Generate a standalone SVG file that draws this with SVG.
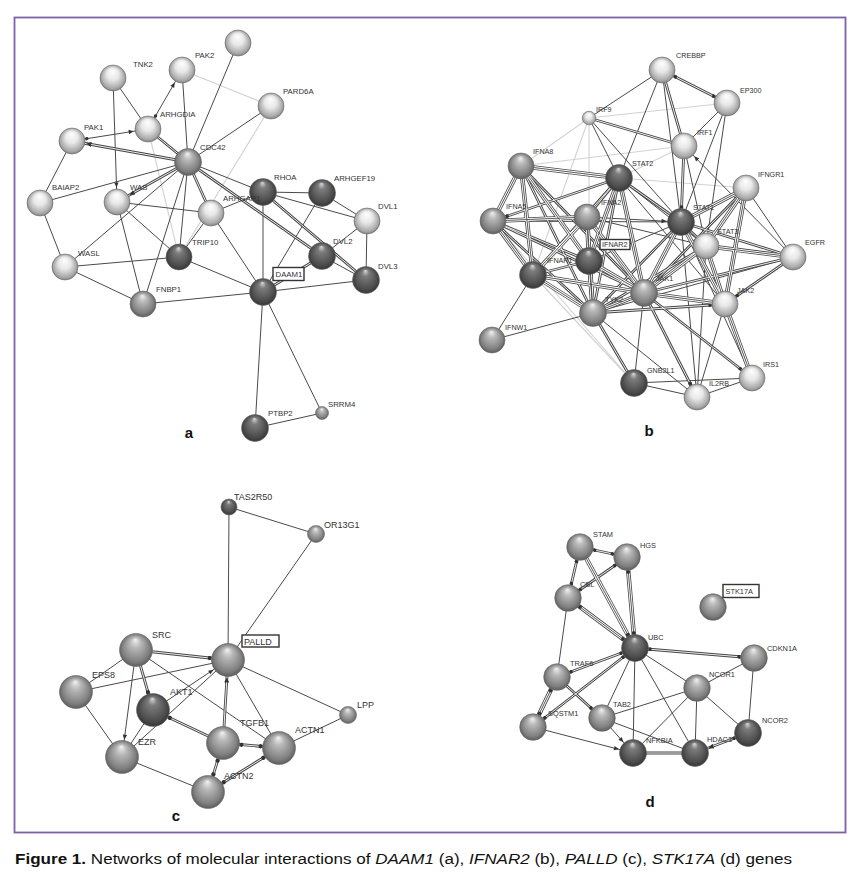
<svg xmlns="http://www.w3.org/2000/svg" xmlns:xlink="http://www.w3.org/1999/xlink" width="860" height="881" viewBox="0 0 860 881">
<style>
.s{stroke:#4a4a4a;stroke-width:1}
.l{stroke:#d2d2d2;stroke-width:1.1}
.o{stroke:#474747;stroke-width:2.8}
.w{stroke:#fff;stroke-width:0.9}
.o3{stroke:#474747;stroke-width:4.4}
.w3{stroke:#fff;stroke-width:2.8}
.i3{stroke:#474747;stroke-width:0.9}
.n circle{stroke:#6a6a6a;stroke-width:0.6}
.L{fill:url(#gL)}
.M{fill:url(#gM)}
.D{fill:url(#gD)}
.t{font-family:"Liberation Sans",Arial,sans-serif;fill:#333}
.ta{font-size:7.8px}
.tb{font-size:7.2px}
.tc{font-size:9px}
.td{font-size:7.4px}
.box{fill:#fff;stroke:#333;stroke-width:1.4}
.pl{font-family:"Liberation Sans",Arial,sans-serif;font-size:15px;font-weight:bold;fill:#111;text-anchor:middle}
</style>
<defs>
<radialGradient id="gL" cx="50%" cy="50%" r="52%" fx="48%" fy="22%">
<stop offset="0" stop-color="#ffffff"/><stop offset="0.45" stop-color="#e8e8e8"/><stop offset="0.85" stop-color="#a9a9a9"/><stop offset="1" stop-color="#7c7c7c"/>
</radialGradient>
<radialGradient id="gM" cx="50%" cy="50%" r="52%" fx="48%" fy="18%">
<stop offset="0" stop-color="#f2f2f2"/><stop offset="0.3" stop-color="#b9b9b9"/><stop offset="0.8" stop-color="#7f7f7f"/><stop offset="1" stop-color="#595959"/>
</radialGradient>
<radialGradient id="gD" cx="50%" cy="50%" r="52%" fx="48%" fy="15%">
<stop offset="0" stop-color="#dadada"/><stop offset="0.25" stop-color="#7c7c7c"/><stop offset="0.8" stop-color="#4b4b4b"/><stop offset="1" stop-color="#333"/>
</radialGradient>
<marker id="ar" markerUnits="userSpaceOnUse" orient="auto-start-reverse" refX="14.5" refY="0" markerWidth="1" markerHeight="1" overflow="visible"><path d="M0,0 L-5,-2.2 L-5,2.2z" fill="#333" stroke="none"/></marker>
<marker id="dt" markerUnits="userSpaceOnUse" orient="auto-start-reverse" refX="15" refY="0" markerWidth="1" markerHeight="1" overflow="visible"><circle cx="0" cy="0" r="1.7" fill="#333" stroke="none"/></marker>
<marker id="ar17" markerUnits="userSpaceOnUse" orient="auto-start-reverse" refX="17.5" refY="0" markerWidth="1" markerHeight="1" overflow="visible"><path d="M0,0 L-5,-2.2 L-5,2.2z" fill="#333" stroke="none"/></marker>
<marker id="dt17" markerUnits="userSpaceOnUse" orient="auto-start-reverse" refX="18.5" refY="0" markerWidth="1" markerHeight="1" overflow="visible"><circle cx="0" cy="0" r="2" fill="#333" stroke="none"/></marker>
</defs>
<rect x="0" y="0" width="860" height="881" fill="#fff"/>
<rect x="14.5" y="17.5" width="831" height="815" fill="none" stroke="#7d61a8" stroke-width="1.8"/>

<g id="connectors" fill="none">
<g class="l">
<line x1="182" y1="70" x2="271" y2="106"/>
<line x1="271" y1="106" x2="179" y2="257"/>
<line x1="148" y1="129" x2="179" y2="257"/>
<line x1="727" y1="103" x2="589" y2="118"/>
<line x1="589" y1="118" x2="521" y2="166"/>
<line x1="589" y1="118" x2="533" y2="275"/>
<line x1="589" y1="118" x2="589" y2="261"/>
<line x1="684" y1="146" x2="619" y2="178"/>
<line x1="619" y1="178" x2="746" y2="188"/>
<line x1="493" y1="221" x2="634" y2="383"/>
<line x1="533" y1="275" x2="634" y2="383"/>
<line x1="521" y1="166" x2="684" y2="146"/>
</g>
<g class="s">
<line x1="238" y1="43" x2="188" y2="162"/>
<line x1="182" y1="70" x2="188" y2="162"/>
<line x1="182" y1="70" x2="148" y2="129" marker-start="url(#ar)" marker-end="url(#dt)"/>
<line x1="271" y1="106" x2="188" y2="162"/>
<line x1="113" y1="78" x2="148" y2="129"/>
<line x1="113" y1="78" x2="117" y2="202" marker-end="url(#ar)"/>
<line x1="72" y1="141" x2="148" y2="129" marker-start="url(#dt)" marker-end="url(#ar)"/>
<line x1="72" y1="141" x2="40" y2="203"/>
<line x1="188" y1="162" x2="40" y2="203"/>
<line x1="188" y1="162" x2="65" y2="267"/>
<line x1="188" y1="162" x2="143" y2="304"/>
<line x1="188" y1="162" x2="179" y2="257"/>
<line x1="188" y1="162" x2="263" y2="192"/>
<line x1="117" y1="202" x2="211" y2="213"/>
<line x1="117" y1="202" x2="179" y2="257"/>
<line x1="117" y1="202" x2="143" y2="304"/>
<line x1="211" y1="213" x2="263" y2="192"/>
<line x1="211" y1="213" x2="179" y2="257"/>
<line x1="211" y1="213" x2="263" y2="292"/>
<line x1="263" y1="192" x2="322" y2="193"/>
<line x1="263" y1="192" x2="367" y2="221"/>
<line x1="263" y1="192" x2="263" y2="292"/>
<line x1="322" y1="193" x2="367" y2="221"/>
<line x1="322" y1="193" x2="263" y2="292"/>
<line x1="367" y1="221" x2="322" y2="256"/>
<line x1="367" y1="221" x2="366" y2="280"/>
<line x1="322" y1="256" x2="366" y2="280"/>
<line x1="366" y1="280" x2="263" y2="292"/>
<line x1="65" y1="267" x2="179" y2="257"/>
<line x1="65" y1="267" x2="143" y2="304"/>
<line x1="65" y1="267" x2="40" y2="203"/>
<line x1="143" y1="304" x2="263" y2="292"/>
<line x1="179" y1="257" x2="263" y2="292"/>
<line x1="263" y1="292" x2="255" y2="428"/>
<line x1="263" y1="292" x2="322" y2="413"/>
<line x1="255" y1="428" x2="322" y2="413"/>

<line x1="662" y1="70" x2="589" y2="118"/>
<line x1="662" y1="70" x2="619" y2="178"/>
<line x1="662" y1="70" x2="681" y2="222"/>
<line x1="727" y1="103" x2="684" y2="146"/>
<line x1="727" y1="103" x2="681" y2="222"/>
<line x1="727" y1="103" x2="706" y2="246"/>
<line x1="589" y1="118" x2="681" y2="222"/>
<line x1="589" y1="118" x2="619" y2="178"/>
<line x1="684" y1="146" x2="706" y2="246"/>
<line x1="684" y1="146" x2="793" y2="257" marker-start="url(#ar)"/>
<line x1="619" y1="178" x2="706" y2="246"/>
<line x1="619" y1="178" x2="725" y2="304"/>
<line x1="493" y1="221" x2="681" y2="222"/>
<line x1="587" y1="217" x2="681" y2="222" marker-end="url(#ar)"/>
<line x1="587" y1="217" x2="706" y2="246"/>
<line x1="681" y1="222" x2="589" y2="261"/>
<line x1="681" y1="222" x2="697" y2="397"/>
<line x1="681" y1="222" x2="752" y2="378"/>
<line x1="706" y1="246" x2="697" y2="397"/>
<line x1="746" y1="188" x2="793" y2="257"/>
<line x1="793" y1="257" x2="593" y2="313"/>
<line x1="533" y1="275" x2="492" y2="340"/>
<line x1="492" y1="340" x2="593" y2="313"/>
<line x1="644" y1="293" x2="634" y2="383"/>
<line x1="593" y1="313" x2="697" y2="397"/>
<line x1="725" y1="304" x2="697" y2="397"/>
<line x1="634" y1="383" x2="697" y2="397"/>
<line x1="634" y1="383" x2="752" y2="378"/>
<line x1="697" y1="397" x2="752" y2="378"/>

<line x1="229" y1="507" x2="228" y2="660"/>
<line x1="229" y1="507" x2="316" y2="534"/>
<line x1="316" y1="534" x2="228" y2="660"/>
<line x1="136" y1="650" x2="76" y2="692"/>
<line x1="136" y1="650" x2="122" y2="757" marker-end="url(#ar17)"/>
<line x1="136" y1="650" x2="279" y2="748"/>
<line x1="76" y1="692" x2="228" y2="660"/>
<line x1="76" y1="692" x2="122" y2="757"/>
<line x1="153" y1="710" x2="228" y2="660" marker-end="url(#ar17)"/>
<line x1="153" y1="710" x2="122" y2="757"/>
<line x1="122" y1="757" x2="228" y2="660"/>
<line x1="122" y1="757" x2="208" y2="792"/>
<line x1="228" y1="660" x2="279" y2="748"/>
<line x1="228" y1="660" x2="348" y2="715"/>
<line x1="348" y1="715" x2="279" y2="748"/>

<line x1="568" y1="598" x2="557" y2="677"/>
<line x1="635" y1="648" x2="602" y2="718"/>
<line x1="635" y1="648" x2="633" y2="753"/>
<line x1="635" y1="648" x2="695" y2="753"/>
<line x1="635" y1="648" x2="697" y2="688"/>
<line x1="602" y1="718" x2="633" y2="753" marker-end="url(#ar)"/>
<line x1="602" y1="718" x2="697" y2="688"/>
<line x1="602" y1="718" x2="695" y2="753"/>
<line x1="533" y1="727" x2="633" y2="753" marker-end="url(#ar)"/>
<line x1="697" y1="688" x2="633" y2="753"/>
<line x1="697" y1="688" x2="695" y2="753"/>
<line x1="697" y1="688" x2="748" y2="733"/>
<line x1="754" y1="658" x2="748" y2="733"/>
<line x1="697" y1="688" x2="754" y2="658"/>
</g>
<g class="o"><g id="dbl">
<line x1="72" y1="141" x2="188" y2="162" marker-start="url(#ar)"/>
<line x1="148" y1="129" x2="188" y2="162"/>
<line x1="188" y1="162" x2="117" y2="202" marker-end="url(#ar)"/>
<line x1="188" y1="162" x2="211" y2="213"/>
<line x1="188" y1="162" x2="322" y2="256"/>
<line x1="263" y1="192" x2="366" y2="280"/>
<line x1="322" y1="256" x2="263" y2="292"/>

<line x1="662" y1="70" x2="727" y2="103" marker-start="url(#dt)" marker-end="url(#dt)"/>
<line x1="662" y1="70" x2="684" y2="146"/>
<line x1="589" y1="118" x2="684" y2="146"/>
<line x1="684" y1="146" x2="681" y2="222" marker-end="url(#dt)"/>
<line x1="521" y1="166" x2="593" y2="313"/>
<line x1="521" y1="166" x2="644" y2="293"/>
<line x1="619" y1="178" x2="493" y2="221" marker-end="url(#dt)"/>
<line x1="619" y1="178" x2="587" y2="217"/>
<line x1="619" y1="178" x2="533" y2="275"/>
<line x1="619" y1="178" x2="593" y2="313"/>
<line x1="619" y1="178" x2="681" y2="222"/>
<line x1="493" y1="221" x2="589" y2="261"/>
<line x1="493" y1="221" x2="644" y2="293"/>
<line x1="493" y1="221" x2="593" y2="313"/>
<line x1="681" y1="222" x2="706" y2="246"/>
<line x1="681" y1="222" x2="593" y2="313"/>
<line x1="681" y1="222" x2="793" y2="257"/>
<line x1="706" y1="246" x2="593" y2="313"/>
<line x1="746" y1="188" x2="644" y2="293"/>
<line x1="793" y1="257" x2="725" y2="304" marker-end="url(#dt)"/>
<line x1="793" y1="257" x2="644" y2="293"/>
<line x1="589" y1="261" x2="533" y2="275"/>
<line x1="644" y1="293" x2="697" y2="397" marker-end="url(#dt)"/>
<line x1="644" y1="293" x2="752" y2="378" marker-end="url(#dt)"/>
<line x1="593" y1="313" x2="725" y2="304" marker-end="url(#dt)"/>
<line x1="593" y1="313" x2="634" y2="383"/>

<line x1="136" y1="650" x2="228" y2="660" marker-end="url(#dt17)"/>
<line x1="136" y1="650" x2="153" y2="710" marker-end="url(#dt17)"/>
<line x1="153" y1="710" x2="223" y2="743" marker-start="url(#dt17)"/>
<line x1="228" y1="660" x2="223" y2="743" marker-start="url(#ar17)"/>
<line x1="223" y1="743" x2="279" y2="748" marker-start="url(#dt17)" marker-end="url(#dt17)"/>
<line x1="223" y1="743" x2="208" y2="792" marker-start="url(#dt17)" marker-end="url(#dt17)"/>
<line x1="279" y1="748" x2="208" y2="792" marker-start="url(#dt17)" marker-end="url(#dt17)"/>

<line x1="580" y1="547" x2="627" y2="557" marker-start="url(#dt)" marker-end="url(#dt)"/>
<line x1="580" y1="547" x2="568" y2="598" marker-start="url(#dt)" marker-end="url(#dt)"/>
<line x1="627" y1="557" x2="568" y2="598" marker-start="url(#dt)" marker-end="url(#dt)"/>
<line x1="635" y1="648" x2="754" y2="658" marker-start="url(#dt)" marker-end="url(#dt)"/>
<line x1="635" y1="648" x2="557" y2="677" marker-start="url(#dt)" marker-end="url(#dt)"/>
<line x1="635" y1="648" x2="533" y2="727" marker-start="url(#dt)" marker-end="url(#dt)"/>
<line x1="557" y1="677" x2="602" y2="718" marker-end="url(#dt)"/>
<line x1="748" y1="733" x2="695" y2="753" marker-start="url(#dt)" marker-end="url(#ar)"/>
<line x1="633" y1="753" x2="695" y2="753"/>
</g></g>
<g class="o3"><g id="tri">
<line x1="521" y1="166" x2="619" y2="178"/>
<line x1="521" y1="166" x2="493" y2="221"/>
<line x1="521" y1="166" x2="533" y2="275"/>
<line x1="521" y1="166" x2="589" y2="261"/>
<line x1="619" y1="178" x2="589" y2="261"/>
<line x1="619" y1="178" x2="644" y2="293"/>
<line x1="493" y1="221" x2="587" y2="217"/>
<line x1="493" y1="221" x2="533" y2="275"/>
<line x1="587" y1="217" x2="533" y2="275"/>
<line x1="587" y1="217" x2="589" y2="261"/>
<line x1="587" y1="217" x2="644" y2="293"/>
<line x1="587" y1="217" x2="593" y2="313"/>
<line x1="681" y1="222" x2="644" y2="293"/>
<line x1="681" y1="222" x2="725" y2="304"/>
<line x1="681" y1="222" x2="746" y2="188"/>
<line x1="706" y1="246" x2="793" y2="257"/>
<line x1="706" y1="246" x2="644" y2="293"/>
<line x1="706" y1="246" x2="725" y2="304"/>
<line x1="706" y1="246" x2="746" y2="188"/>
<line x1="746" y1="188" x2="725" y2="304"/>
<line x1="589" y1="261" x2="644" y2="293"/>
<line x1="589" y1="261" x2="593" y2="313"/>
<line x1="533" y1="275" x2="644" y2="293"/>
<line x1="533" y1="275" x2="593" y2="313"/>
<line x1="644" y1="293" x2="593" y2="313"/>
<line x1="644" y1="293" x2="725" y2="304"/>
<line x1="725" y1="304" x2="752" y2="378"/>

<line x1="580" y1="547" x2="635" y2="648" marker-end="url(#dt)"/>
<line x1="627" y1="557" x2="635" y2="648" marker-start="url(#dt)" marker-end="url(#dt)"/>
<line x1="568" y1="598" x2="635" y2="648" marker-start="url(#dt)" marker-end="url(#dt)"/>
<line x1="557" y1="677" x2="533" y2="727" marker-start="url(#dt)" marker-end="url(#dt)"/>
</g></g>
<use href="#dbl" xlink:href="#dbl" class="w"/>
<use href="#tri" xlink:href="#tri" class="w3"/>
<use href="#tri" xlink:href="#tri" class="i3"/>
</g>

<g id="panel-a">
<g id="node-a-top" class="n"><circle class="L" cx="238" cy="43" r="13"/></g>
<g id="node-PAK2" class="n"><circle class="L" cx="182" cy="70" r="13"/><text class="t ta" x="195" y="58">PAK2</text></g>
<g id="node-TNK2" class="n"><circle class="L" cx="113" cy="78" r="13"/><text class="t ta" x="133" y="67">TNK2</text></g>
<g id="node-PARD6A" class="n"><circle class="L" cx="271" cy="106" r="13"/><text class="t ta" x="283" y="94">PARD6A</text></g>
<g id="node-ARHGDIA" class="n"><circle class="L" cx="148" cy="129" r="13"/><text class="t ta" x="160" y="117">ARHGDIA</text></g>
<g id="node-PAK1" class="n"><circle class="L" cx="72" cy="141" r="13"/><text class="t ta" x="84" y="130">PAK1</text></g>
<g id="node-CDC42" class="n"><circle class="M" cx="188" cy="162" r="13.5"/><text class="t ta" x="200" y="150">CDC42</text></g>
<g id="node-BAIAP2" class="n"><circle class="L" cx="40" cy="203" r="13"/><text class="t ta" x="52" y="190">BAIAP2</text></g>
<g id="node-WAS" class="n"><circle class="L" cx="117" cy="202" r="13"/><text class="t ta" x="130" y="190">WAS</text></g>
<g id="node-RHOA" class="n"><circle class="D" cx="263" cy="192" r="13.5"/><text class="t ta" x="274" y="180">RHOA</text></g>
<g id="node-ARHGEF19" class="n"><circle class="D" cx="322" cy="193" r="13.5"/><text class="t ta" x="334" y="181">ARHGEF19</text></g>
<g id="node-ARHGAP1" class="n"><circle class="L" cx="211" cy="213" r="13"/><text class="t ta" x="223" y="201">ARHGAP1</text></g>
<g id="node-DVL1" class="n"><circle class="L" cx="367" cy="221" r="13"/><text class="t ta" x="378" y="209">DVL1</text></g>
<g id="node-TRIP10" class="n"><circle class="D" cx="179" cy="257" r="13"/><text class="t ta" x="192" y="245">TRIP10</text></g>
<g id="node-WASL" class="n"><circle class="L" cx="65" cy="267" r="13"/><text class="t ta" x="78" y="256">WASL</text></g>
<g id="node-DVL2" class="n"><circle class="D" cx="322" cy="256" r="13.5"/><text class="t ta" x="333" y="244">DVL2</text></g>
<g id="node-DVL3" class="n"><circle class="D" cx="366" cy="280" r="13.5"/><text class="t ta" x="378" y="269">DVL3</text></g>
<g id="node-DAAM1" class="n"><circle class="D" cx="263" cy="292" r="13.5"/><rect class="box" x="273" y="267.5" width="31" height="13"/><text class="t ta" x="275.5" y="277">DAAM1</text></g>
<g id="node-FNBP1" class="n"><circle class="M" cx="143" cy="304" r="13"/><text class="t ta" x="156" y="292">FNBP1</text></g>
<g id="node-PTBP2" class="n"><circle class="D" cx="255" cy="428" r="13.5"/><text class="t ta" x="268" y="416">PTBP2</text></g>
<g id="node-SRRM4" class="n"><circle class="M" cx="322" cy="413" r="6.5"/><text class="t ta" x="328" y="407">SRRM4</text></g>
<text class="pl" x="189" y="438">a</text>
</g>

<g id="panel-b">
<g id="node-CREBBP" class="n"><circle class="L" cx="662" cy="70" r="13"/><text class="t tb" x="676" y="57.5">CREBBP</text></g>
<g id="node-EP300" class="n"><circle class="L" cx="727" cy="103" r="13"/><text class="t tb" x="740" y="92.5">EP300</text></g>
<g id="node-IRF9" class="n"><circle class="L" cx="589" cy="118" r="6.8"/><text class="t tb" x="596" y="111.5">IRF9</text></g>
<g id="node-IRF1" class="n"><circle class="L" cx="684" cy="146" r="13"/><text class="t tb" x="697" y="134.5">IRF1</text></g>
<g id="node-IFNA8" class="n"><circle class="M" cx="521" cy="166" r="13"/><text class="t tb" x="533" y="153.5">IFNA8</text></g>
<g id="node-STAT2" class="n"><circle class="D" cx="619" cy="178" r="13.5"/><text class="t tb" x="632" y="165.5">STAT2</text></g>
<g id="node-IFNGR1" class="n"><circle class="L" cx="746" cy="188" r="13"/><text class="t tb" x="758" y="176.5">IFNGR1</text></g>
<g id="node-IFNA5" class="n"><circle class="M" cx="493" cy="221" r="13"/><text class="t tb" x="506" y="208.5">IFNA5</text></g>
<g id="node-IFNA2" class="n"><circle class="M" cx="587" cy="217" r="13"/><text class="t tb" x="601" y="204.5">IFNA2</text></g>
<g id="node-STAT1" class="n"><circle class="D" cx="681" cy="222" r="13.5"/><text class="t tb" x="693" y="209.5">STAT1</text></g>
<g id="node-STAT3" class="n"><circle class="L" cx="706" cy="246" r="13"/><text class="t tb" x="717" y="233.5">STAT3</text></g>
<g id="node-EGFR" class="n"><circle class="L" cx="793" cy="257" r="13"/><text class="t tb" x="805" y="244.5">EGFR</text></g>
<g id="node-IFNAR2" class="n"><circle class="D" cx="589" cy="261" r="13.5"/><rect class="box" x="600" y="239.5" width="30" height="10"/><text class="t tb" x="602" y="247.3">IFNAR2</text></g>
<g id="node-IFNAR1" class="n"><circle class="D" cx="533" cy="275" r="13.5"/><text class="t tb" x="547" y="262.5">IFNAR1</text></g>
<g id="node-JAK1" class="n"><circle class="M" cx="644" cy="293" r="13.5"/><text class="t tb" x="656" y="280.5">JAK1</text></g>
<g id="node-TYK2" class="n"><circle class="M" cx="593" cy="313" r="13.5"/><text class="t tb" x="605" y="301.5">TYK2</text></g>
<g id="node-JAK2" class="n"><circle class="L" cx="725" cy="304" r="13"/><text class="t tb" x="737" y="292.5">JAK2</text></g>
<g id="node-IFNW1" class="n"><circle class="M" cx="492" cy="340" r="13"/><text class="t tb" x="505" y="329.5">IFNW1</text></g>
<g id="node-GNB2L1" class="n"><circle class="D" cx="634" cy="383" r="13.5"/><text class="t tb" x="647" y="372.5">GNB2L1</text></g>
<g id="node-IL2RB" class="n"><circle class="L" cx="697" cy="397" r="13"/><text class="t tb" x="709" y="385.5">IL2RB</text></g>
<g id="node-IRS1" class="n"><circle class="L" cx="752" cy="378" r="13"/><text class="t tb" x="763" y="366.5">IRS1</text></g>
<text class="pl" x="649" y="436">b</text>
</g>

<g id="panel-c">
<g id="node-TAS2R50" class="n"><circle class="D" cx="229" cy="507" r="8"/><text class="t tc" x="234" y="500">TAS2R50</text></g>
<g id="node-OR13G1" class="n"><circle class="M" cx="316" cy="534" r="8.5"/><text class="t tc" x="324" y="528">OR13G1</text></g>
<g id="node-SRC" class="n"><circle class="M" cx="136" cy="650" r="16.5"/><text class="t tc" x="152" y="638">SRC</text></g>
<g id="node-PALLD" class="n"><circle class="M" cx="228" cy="660" r="16.5"/><rect class="box" x="242" y="635" width="37" height="12"/><text class="t tc" x="244" y="644.5">PALLD</text></g>
<g id="node-EPS8" class="n"><circle class="M" cx="76" cy="692" r="16.5"/><text class="t tc" x="92" y="678">EPS8</text></g>
<g id="node-AKT1" class="n"><circle class="D" cx="153" cy="710" r="16.5"/><text class="t tc" x="170" y="695">AKT1</text></g>
<g id="node-LPP" class="n"><circle class="M" cx="348" cy="715" r="8.5"/><text class="t tc" x="357" y="708">LPP</text></g>
<g id="node-TGFB1" class="n"><circle class="M" cx="223" cy="743" r="16.5"/><text class="t tc" x="240" y="726">TGFB1</text></g>
<g id="node-ACTN1" class="n"><circle class="M" cx="279" cy="748" r="16.5"/><text class="t tc" x="295" y="733">ACTN1</text></g>
<g id="node-EZR" class="n"><circle class="M" cx="122" cy="757" r="16.5"/><text class="t tc" x="138" y="745">EZR</text></g>
<g id="node-ACTN2" class="n"><circle class="M" cx="208" cy="792" r="16.5"/><text class="t tc" x="224" y="779">ACTN2</text></g>
<text class="pl" x="176" y="821">c</text>
</g>

<g id="panel-d">
<g id="node-STAM" class="n"><circle class="M" cx="580" cy="547" r="13.3"/><text class="t td" x="593" y="536.5">STAM</text></g>
<g id="node-HGS" class="n"><circle class="M" cx="627" cy="557" r="13.3"/><text class="t td" x="640" y="547.5">HGS</text></g>
<g id="node-CBL" class="n"><circle class="M" cx="568" cy="598" r="13.3"/><text class="t td" x="580" y="586.5">CBL</text></g>
<g id="node-STK17A" class="n"><circle class="M" cx="713" cy="607" r="13.3"/><rect class="box" x="723" y="584.5" width="36" height="13"/><text class="t td" x="725.5" y="594">STK17A</text></g>
<g id="node-UBC" class="n"><circle class="D" cx="635" cy="648" r="13.5"/><text class="t td" x="648" y="639.5">UBC</text></g>
<g id="node-CDKN1A" class="n"><circle class="M" cx="754" cy="658" r="13.3"/><text class="t td" x="767" y="650.5">CDKN1A</text></g>
<g id="node-TRAF6" class="n"><circle class="M" cx="557" cy="677" r="13.3"/><text class="t td" x="570" y="665.5">TRAF6</text></g>
<g id="node-NCOR1" class="n"><circle class="M" cx="697" cy="688" r="13.3"/><text class="t td" x="709" y="676.5">NCOR1</text></g>
<g id="node-TAB2" class="n"><circle class="M" cx="602" cy="718" r="13.3"/><text class="t td" x="613" y="706.5">TAB2</text></g>
<g id="node-SQSTM1" class="n"><circle class="M" cx="533" cy="727" r="13.3"/><text class="t td" x="548" y="715.5">SQSTM1</text></g>
<g id="node-NCOR2" class="n"><circle class="D" cx="748" cy="733" r="13.5"/><text class="t td" x="762" y="722.5">NCOR2</text></g>
<g id="node-NFKBIA" class="n"><circle class="D" cx="633" cy="753" r="13.5"/><text class="t td" x="646" y="742.5">NFKBIA</text></g>
<g id="node-HDAC3" class="n"><circle class="D" cx="695" cy="753" r="13.5"/><text class="t td" x="707" y="741.5">HDAC3</text></g>
<text class="pl" x="650" y="806.5">d</text>
</g>

<text id="caption" x="15" y="864" font-family="'Liberation Sans', Arial, sans-serif" font-size="14" fill="#111" textLength="777" lengthAdjust="spacingAndGlyphs"><tspan font-weight="bold">Figure 1.</tspan> Networks of molecular interactions of <tspan font-style="italic">DAAM1</tspan> (a), <tspan font-style="italic">IFNAR2</tspan> (b), <tspan font-style="italic">PALLD</tspan> (c), <tspan font-style="italic">STK17A</tspan> (d) genes</text>
</svg>
